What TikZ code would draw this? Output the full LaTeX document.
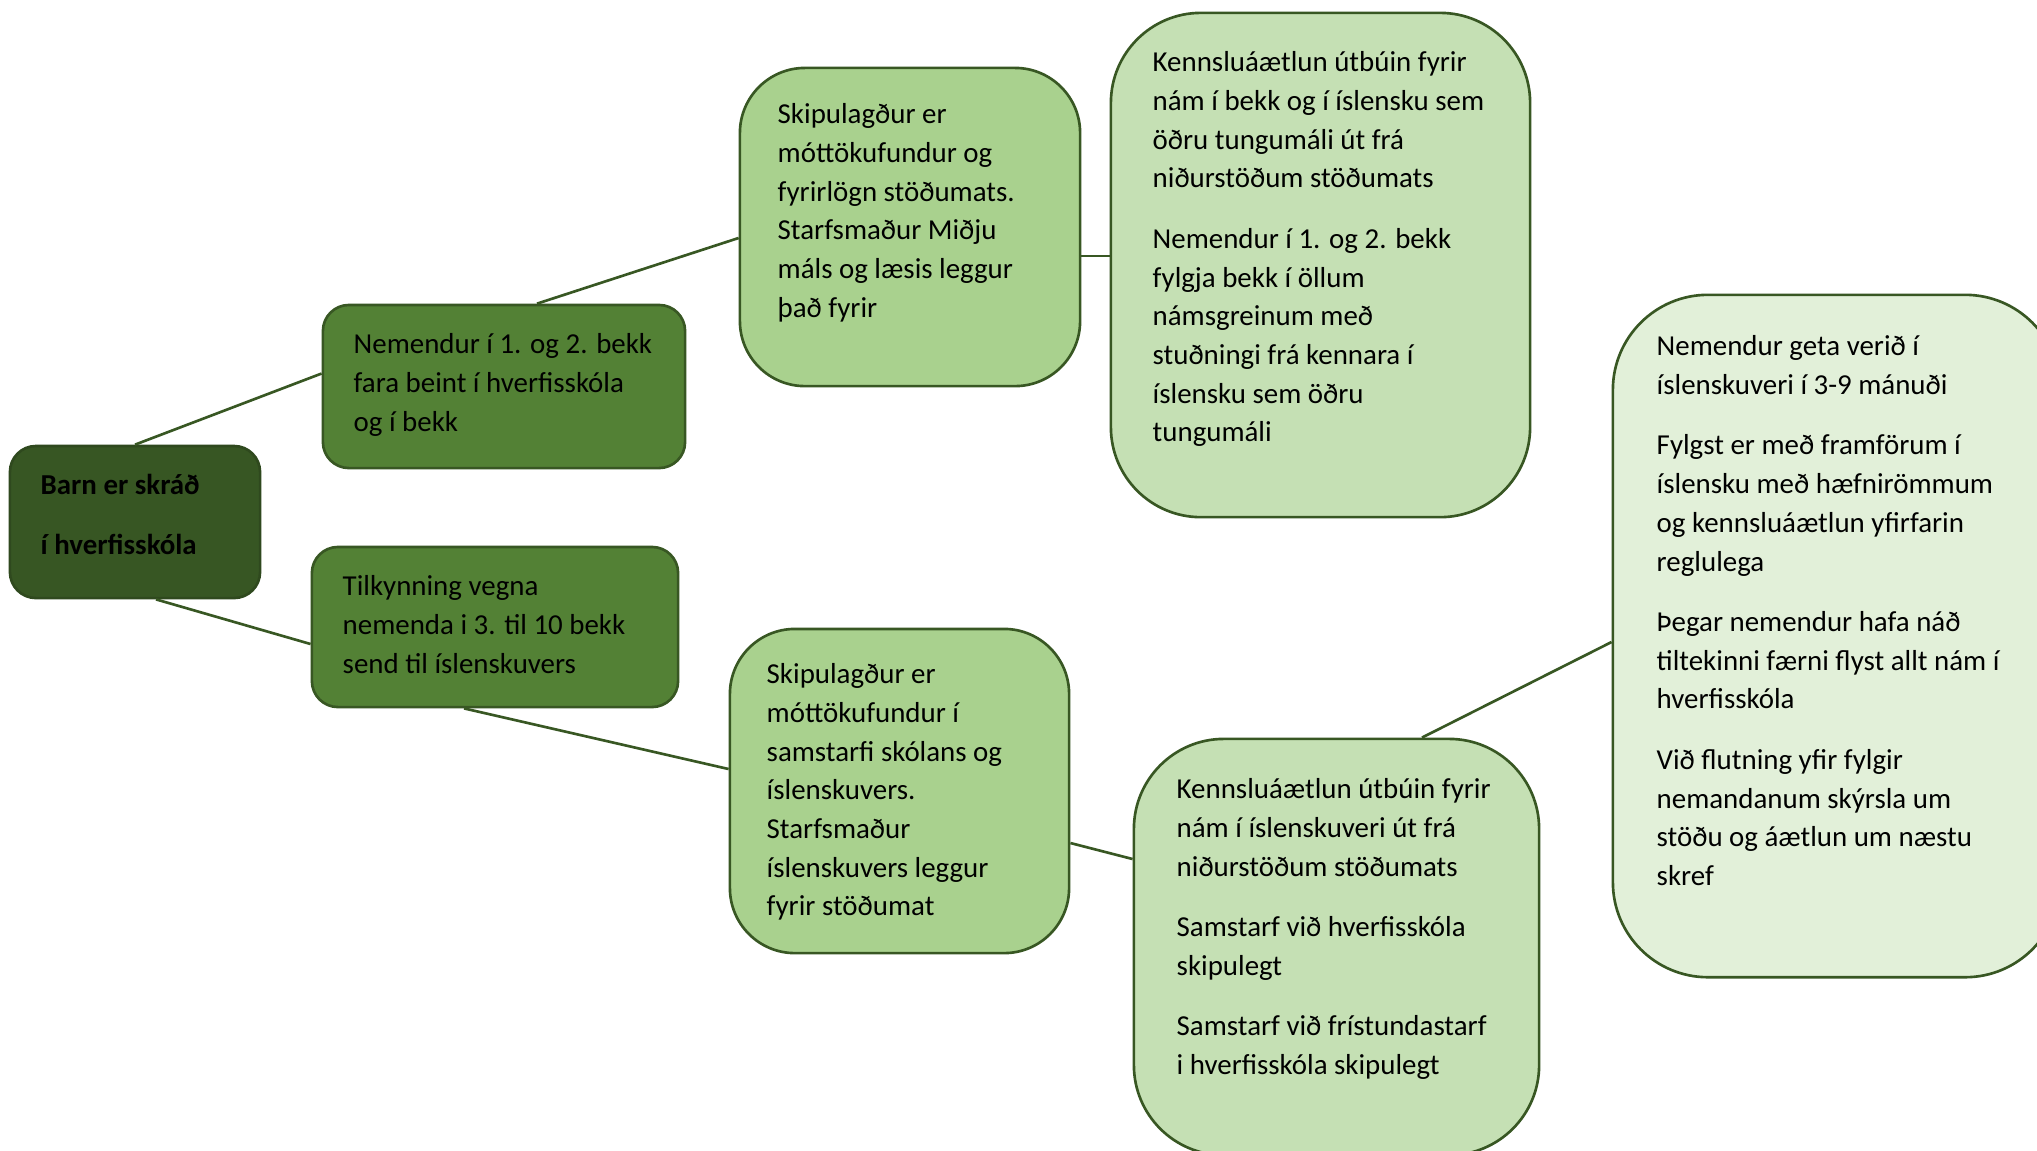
\documentclass[tikz,border=0pt]{standalone}
\usepackage{fontspec}
\setmainfont{Carlito}
\usetikzlibrary{calc}
\definecolor{rootfill}{HTML}{375623}
\definecolor{lvlone}{HTML}{538135}
\definecolor{lvltwo}{HTML}{A9D18E}
\definecolor{lvlthree}{HTML}{C5E0B4}
\definecolor{lvlfour}{HTML}{E2F0D9}
\definecolor{edgecol}{HTML}{385723}
\begin{document}
\begin{tikzpicture}[x=0.01cm,y=-0.01cm,
  boxnode/.style={draw=edgecol, line width=0.75pt, rectangle, inner sep=0pt},
  txt/.style={anchor=north west, inner sep=0pt, align=left, font=\fontsize{8.22pt}{11pt}\selectfont},
  conn/.style={draw=edgecol, line width=0.75pt}]
\clip (0,0) rectangle (2037,1150);
\fill[white] (0,0) rectangle (2037,1150);

% boxes
\node[boxnode, fill=rootfill, draw=rootfill!85!black, minimum width=2.50cm, minimum height=1.52cm, rounded corners=0.26cm] (root) at (135,522) {};
\node[boxnode, fill=lvlone, minimum width=3.62cm, minimum height=1.63cm, rounded corners=0.26cm] (n1) at (504,386.5) {};
\node[boxnode, fill=lvlone, minimum width=3.66cm, minimum height=1.60cm, rounded corners=0.26cm] (n2) at (495,627) {};
\node[boxnode, fill=lvltwo, minimum width=3.40cm, minimum height=3.18cm, rounded corners=0.65cm] (m1) at (910,227) {};
\node[boxnode, fill=lvltwo, minimum width=3.39cm, minimum height=3.24cm, rounded corners=0.65cm] (m2) at (899.5,791) {};
\node[boxnode, fill=lvlthree, minimum width=4.19cm, minimum height=5.04cm, rounded corners=0.90cm] (r1) at (1320.5,265) {};
\node[boxnode, fill=lvlthree, minimum width=4.05cm, minimum height=4.16cm, rounded corners=0.90cm] (r2) at (1336.5,947) {};
\node[boxnode, fill=lvlfour, minimum width=4.47cm, minimum height=6.82cm, rounded corners=0.95cm] (r3) at (1836.5,636) {};

% connectors
\draw[conn] (root.north) -- ($(n1.west)+(0,-13)$);
\draw[conn] ($(root.south)+(21,0)$) -- ($(n2.west)+(0,17)$);
\draw[conn] ($(n1.north)+(33,0)$) -- ($(m1.west)+(0,11)$);
\draw[conn] ($(n2.south)+(-31,0)$) -- ($(m2.west)+(0,-22)$);
\draw[conn] ($(m1.east)+(0,29)$) -- ($(r1.west)+(0,-9)$);
\draw[conn] ($(m2.east)+(0,52)$) -- ($(r2.west)+(0,-88)$);
\draw[conn] ($(r2.north)+(85.5,0)$) -- ($(r3.west)+(0,6)$);

% texts
\node[txt, font=\fontsize{8.22pt}{17pt}\selectfont\bfseries] (troot) at (40,452) {\strut Barn er skráð\\ í hverfisskóla};
\node[txt] (tn1) at (353,326) {\strut Nemendur í 1. og 2. bekk\\ fara beint í hverfisskóla\\ og í bekk};
\node[txt] (tn2) at (342,568) {\strut Tilkynning vegna\\ nemenda i 3. til 10 bekk\\ send til íslenskuvers};
\node[txt] (tm1) at (777,96) {\strut Skipulagður er\\ móttökufundur og\\ fyrirlögn stöðumats.\\ Starfsmaður Miðju\\ máls og læsis leggur\\ það fyrir};
\node[txt] (tm2) at (766,656) {\strut Skipulagður er\\ móttökufundur í\\ samstarfi skólans og\\ íslenskuvers.\\ Starfsmaður\\ íslenskuvers leggur\\ fyrir stöðumat};
\node[txt] (tr1) at (1152,44) {\strut Kennsluáætlun útbúin fyrir\\ nám í bekk og í íslensku sem\\ öðru tungumáli út frá\\ niðurstöðum stöðumats\\[6.2pt]
Nemendur í 1. og 2. bekk\\ fylgja bekk í öllum\\ námsgreinum með\\ stuðningi frá kennara í\\ íslensku sem öðru\\ tungumáli};
\node[txt] (tr2) at (1176,771) {\strut Kennsluáætlun útbúin fyrir\\ nám í íslenskuveri út frá\\ niðurstöðum stöðumats\\[6.2pt]
Samstarf við hverfisskóla\\ skipulegt\\[6.2pt]
Samstarf við frístundastarf\\ i hverfisskóla skipulegt};
\node[txt] (tr3) at (1656,328) {\strut Nemendur geta verið í\\ íslenskuveri í 3-9 mánuði\\[6.2pt]
Fylgst er með framförum í\\ íslensku með hæfnirömmum\\ og kennsluáætlun yfirfarin\\ reglulega\\[6.2pt]
Þegar nemendur hafa náð\\ tiltekinni færni flyst allt nám í\\ hverfisskóla\\[6.2pt]
Við flutning yfir fylgir\\ nemandanum skýrsla um\\ stöðu og áætlun um næstu\\ skref};
\end{tikzpicture}
\end{document}
